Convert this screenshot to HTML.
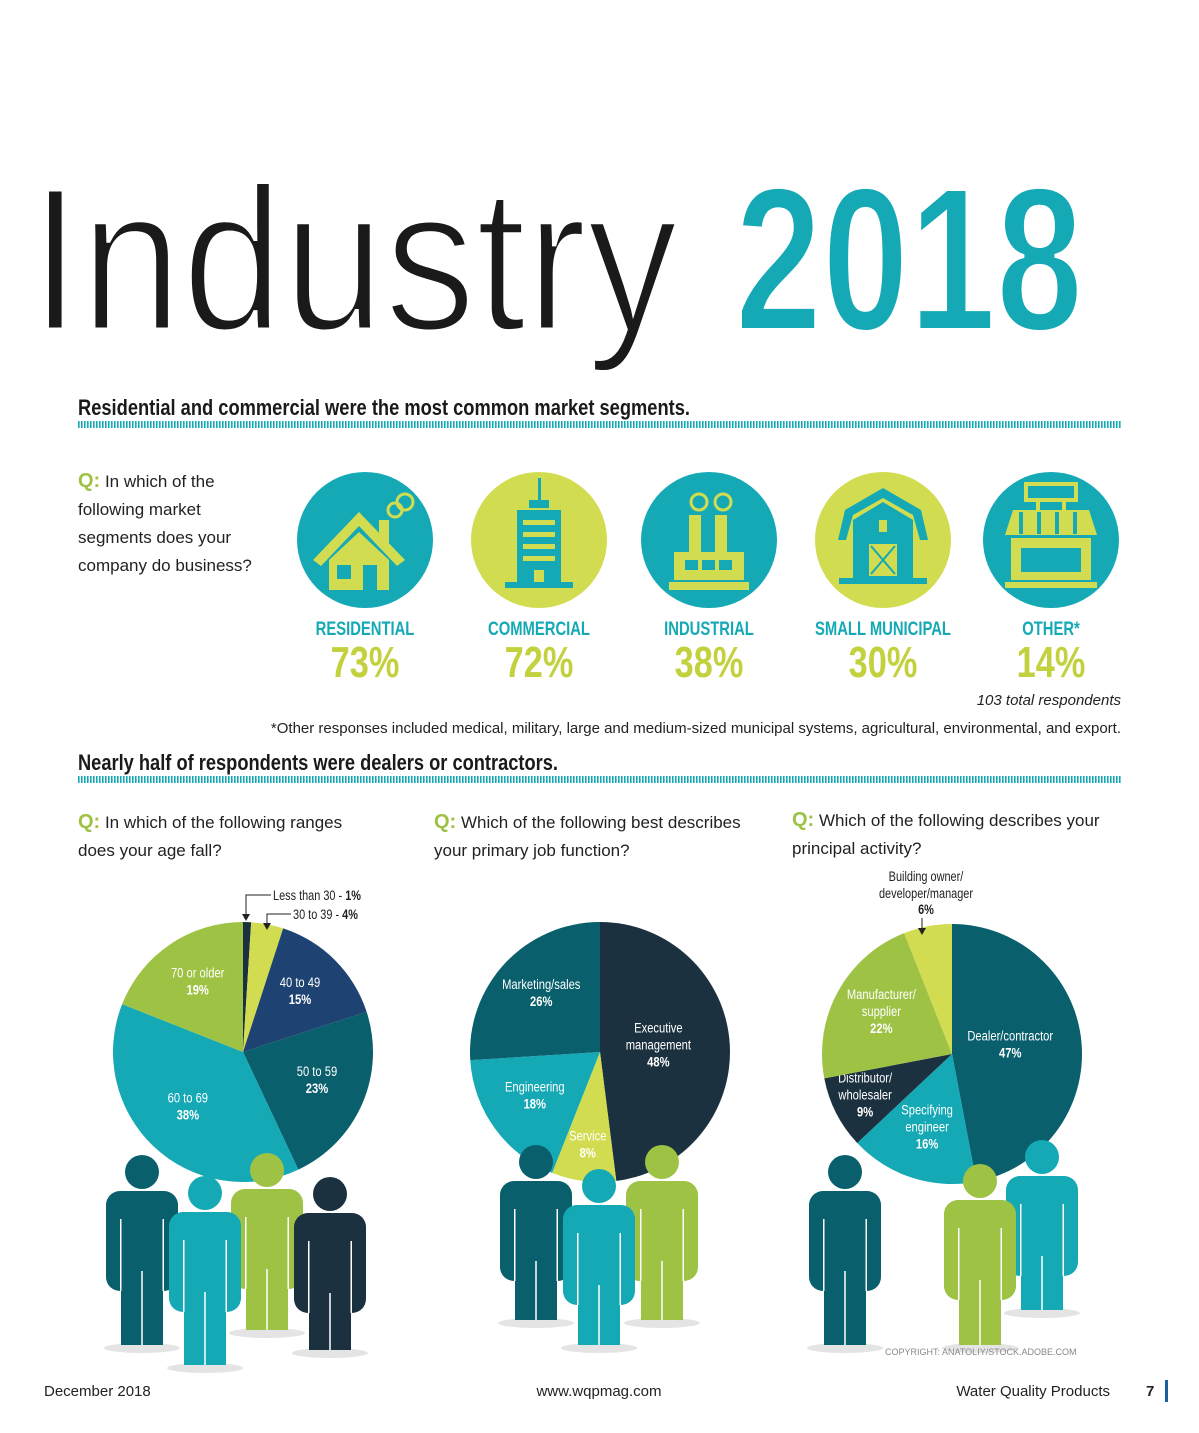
<!DOCTYPE html>
<html><head><meta charset="utf-8"><style>
body{margin:0;background:#fff}
svg{display:block}
.q{font:17px "Liberation Sans",sans-serif;fill:#222}
.qg{fill:#9dc244;font-weight:bold}
.nar{font-family:"Liberation Sans",sans-serif}
.lab{font-size:14px;fill:#fff;text-anchor:middle}
</style></head><body>
<svg id="root" width="1199" height="1433" viewBox="0 0 1199 1433">
<defs>
<pattern id="dots" width="3" height="6" patternUnits="userSpaceOnUse"><rect width="1.6" height="6" fill="#14a9b5"/></pattern>
</defs>
<rect width="1199" height="1433" fill="#fff"/>
<text x="30" y="330" font-family="Liberation Sans,sans-serif" font-size="205" fill="#1a1a1a" stroke="#fff" stroke-width="5" textLength="648" lengthAdjust="spacingAndGlyphs">Industry</text>
<text x="735" y="330" font-family="Liberation Sans,sans-serif" font-weight="bold" font-size="205" fill="#14a9b5" stroke="#fff" stroke-width="4" textLength="348" lengthAdjust="spacingAndGlyphs">2018</text>

<text x="78" y="415" font-family="Liberation Sans,sans-serif" font-weight="bold" font-size="22" fill="#1a1a1a" textLength="612" lengthAdjust="spacingAndGlyphs">Residential and commercial were the most common market segments.</text>
<rect x="78" y="421" width="1044" height="7" fill="url(#dots)"/>

<g class="q">
<text x="78" y="487"><tspan class="qg" font-size="20">Q:</tspan> In which of the</text>
<text x="78" y="515">following market</text>
<text x="78" y="543">segments does your</text>
<text x="78" y="571">company do business?</text>
</g>

<g id="segments"></g>

<text x="1121" y="705" text-anchor="end" font-family="Liberation Sans,sans-serif" font-style="italic" font-size="15" fill="#222">103 total respondents</text>
<text x="1121" y="733" text-anchor="end" font-family="Liberation Sans,sans-serif" font-size="15" fill="#222">*Other responses included medical, military, large and medium-sized municipal systems, agricultural, environmental, and export.</text>

<text x="78" y="770" font-family="Liberation Sans,sans-serif" font-weight="bold" font-size="22" fill="#1a1a1a" textLength="480" lengthAdjust="spacingAndGlyphs">Nearly half of respondents were dealers or contractors.</text>
<rect x="78" y="776" width="1044" height="7" fill="url(#dots)"/>

<g class="q">
<text x="78" y="828"><tspan class="qg" font-size="20">Q:</tspan> In which of the following ranges</text>
<text x="78" y="856">does your age fall?</text></g>
<g class="q">
<text x="434" y="828"><tspan class="qg" font-size="20">Q:</tspan> Which of the following best describes</text>
<text x="434" y="856">your primary job function?</text></g>
<g class="q">
<text x="792" y="826"><tspan class="qg" font-size="20">Q:</tspan> Which of the following describes your</text>
<text x="792" y="854">principal activity?</text></g>

<g id="pies"></g>
<g id="people"></g>

<g font-size="14" fill="#222">
<text class="nar" x="273" y="900">Less than 30 - <tspan font-weight="bold">1%</tspan></text>
<text class="nar" x="293" y="919">30 to 39 - <tspan font-weight="bold">4%</tspan></text>
<polyline points="271,895 246,895 246,917" fill="none" stroke="#222" stroke-width="1"/>
<polygon points="242,914 250,914 246,921" fill="#222"/>
<polyline points="291,914 267,914 267,926" fill="none" stroke="#222" stroke-width="1"/>
<polygon points="263,923 271,923 267,930" fill="#222"/>
</g>
<g font-size="14" fill="#222" text-anchor="middle">
<text class="nar" x="926" y="881">Building owner/</text>
<text class="nar" x="926" y="898">developer/manager</text>
<text class="nar" x="926" y="914" font-weight="bold">6%</text>
<line x1="922" y1="918" x2="922" y2="930" stroke="#222"/>
<polygon points="918,928 926,928 922,935" fill="#222"/>
</g>

<text x="885" y="1355" font-family="Liberation Sans,sans-serif" font-size="9" fill="#888">COPYRIGHT: ANATOLIY/STOCK.ADOBE.COM</text>
<g font-family="Liberation Sans,sans-serif" font-size="15" fill="#222">
<text x="44" y="1396">December 2018</text>
<text x="599" y="1396" text-anchor="middle">www.wqpmag.com</text>
<text x="1110" y="1396" text-anchor="end">Water Quality Products</text>
<text x="1146" y="1396" font-weight="bold">7</text>
</g>
<rect x="1165" y="1380" width="3" height="22" fill="#1a5fa0"/>
</svg>
<script>
const NS='http://www.w3.org/2000/svg';
const TEAL='#14a9b5',LIME='#d2dc50',GREEN='#9dc244',DTEAL='#0a5f6c',NAVY='#1c3140',BLUE='#1e4272';
// market segments data
const segNames=['RESIDENTIAL','COMMERCIAL','INDUSTRIAL','SMALL MUNICIPAL','OTHER*'];
const segValues=[73,72,38,30,14];
const segCenters=[365,539,709,883,1051];
function mk(tag,attrs,parent){const e=document.createElementNS(NS,tag);for(const k in attrs)e.setAttribute(k,attrs[k]);parent.appendChild(e);return e;}
const seg=document.getElementById('segments');
function icon(i,g,cx,cy,c){
 if(i===0){mk('polygon',{points:`${cx-52},${cy+20} ${cx-6},${cy-28} ${cx+40},${cy+20} ${cx+32},${cy+26} ${cx-6},${cy-14} ${cx-44},${cy+26}`,fill:c},g);
  mk('polygon',{points:`${cx-36},${cy+20} ${cx-6},${cy-8} ${cx+24},${cy+20} ${cx+24},${cy+50} ${cx-36},${cy+50}`,fill:c},g);
  mk('rect',{x:cx-28,y:cy+25,width:14,height:14,fill:TEAL},g);mk('rect',{x:cx-2,y:cy+25,width:14,height:25,fill:TEAL},g);
  mk('rect',{x:cx+14,y:cy-20,width:10,height:24,fill:c},g);
  mk('circle',{cx:cx+30,cy:cy-30,r:7,fill:'none',stroke:c,'stroke-width':3},g);mk('circle',{cx:cx+40,cy:cy-38,r:8,fill:'none',stroke:c,'stroke-width':3},g);}
 if(i===1){mk('rect',{x:cx-1,y:cy-62,width:3,height:22,fill:c},g);mk('rect',{x:cx-10,y:cy-40,width:20,height:8,fill:c},g);
  mk('rect',{x:cx-22,y:cy-30,width:44,height:72,fill:c},g);
  for(let k=0;k<4;k++)mk('rect',{x:cx-16,y:cy-20+k*12,width:32,height:5,fill:LIME},g);
  mk('rect',{x:cx-5,y:cy+30,width:10,height:12,fill:LIME},g);mk('rect',{x:cx-34,y:cy+42,width:68,height:6,fill:c},g);}
 if(i===2){mk('rect',{x:cx-20,y:cy-25,width:12,height:40,fill:c},g);mk('rect',{x:cx+6,y:cy-25,width:12,height:40,fill:c},g);
  mk('rect',{x:cx-35,y:cy+12,width:70,height:28,fill:c},g);
  for(let k=0;k<3;k++)mk('rect',{x:cx-24+k*17,y:cy+20,width:13,height:10,fill:TEAL},g);
  mk('rect',{x:cx-40,y:cy+42,width:80,height:8,fill:c},g);
  [[-10,-38],[14,-38]].forEach(p=>mk('circle',{cx:cx+p[0],cy:cy+p[1],r:8,fill:'none',stroke:c,'stroke-width':3},g));}
 if(i===3){mk('polygon',{points:`${cx-45},${cy} ${cx-38},${cy-30} ${cx},${cy-52} ${cx+38},${cy-30} ${cx+45},${cy} ${cx+37},${cy} ${cx+30},${cy-25} ${cx},${cy-42} ${cx-30},${cy-25} ${cx-37},${cy}`,fill:c},g);
  mk('polygon',{points:`${cx-30},${cy-20} ${cx},${cy-38} ${cx+30},${cy-20} ${cx+30},${cy+38} ${cx-30},${cy+38}`,fill:c},g);
  mk('rect',{x:cx-4,y:cy-20,width:8,height:12,fill:LIME},g);mk('rect',{x:cx-14,y:cy+4,width:28,height:32,fill:LIME},g);
  mk('path',{d:`M${cx-12},${cy+6}L${cx+12},${cy+34}M${cx+12},${cy+6}L${cx-12},${cy+34}`,stroke:c,'stroke-width':2},g);
  mk('rect',{x:cx-44,y:cy+38,width:88,height:6,fill:c},g);}
 if(i===4){mk('rect',{x:cx-25,y:cy-56,width:50,height:16,fill:'none',stroke:c,'stroke-width':4},g);
  mk('rect',{x:cx-15,y:cy-40,width:4,height:10,fill:c},g);mk('rect',{x:cx+11,y:cy-40,width:4,height:10,fill:c},g);
  mk('polygon',{points:`${cx-38},${cy-30} ${cx+38},${cy-30} ${cx+46},${cy-5} ${cx-46},${cy-5}`,fill:c},g);
  for(let k=0;k<4;k++)mk('rect',{x:cx-32+k*18,y:cy-28,width:4,height:22,fill:TEAL},g);
  mk('rect',{x:cx-40,y:cy-2,width:80,height:42,fill:c},g);mk('rect',{x:cx-30,y:cy+8,width:60,height:24,fill:TEAL},g);
  mk('rect',{x:cx-46,y:cy+42,width:92,height:6,fill:c},g);}
}
segNames.forEach((n,i)=>{
 const g=mk('g',{},seg);
 
 
 const bg=i%2?LIME:TEAL, fg=i%2?TEAL:LIME;
 mk('circle',{cx:segCenters[i],cy:540,r:68,fill:bg},g);
 icon(i,g,segCenters[i],540,fg);
 const t=mk('text',{x:segCenters[i],y:635,'text-anchor':'middle','font-size':19,'font-weight':'bold',fill:TEAL,class:'nar'},g);t.textContent=n;
 const p=mk('text',{x:segCenters[i],y:677,'text-anchor':'middle','font-size':44,'font-weight':'bold',fill:'#c4d13e',class:'nar'},g);p.textContent=segValues[i]+'%';
});
// pie data
const ageCats=['Less than 30','30 to 39','40 to 49','50 to 59','60 to 69','70 or older'];
const ageVals=[1,4,15,23,38,19];
const ageCols=[NAVY,LIME,BLUE,DTEAL,TEAL,GREEN];
const jobCats=['Executive management','Service','Engineering','Marketing/sales'];
const jobVals=[48,8,18,26];
const jobCols=[NAVY,LIME,TEAL,DTEAL];
const actCats=['Dealer/contractor','Specifying engineer','Distributor/ wholesaler','Manufacturer/ supplier','Building owner/developer/manager'];
const actVals=[47,16,9,22,6];
const actCols=[DTEAL,TEAL,NAVY,GREEN,LIME];
const pies=document.getElementById('pies');
function pie(name,cx,cy,r,cats,vals,cols,labelMin){
 const g=mk('g',{},pies);
 const tot=vals.reduce((a,b)=>a+b,0);let acc=0;
 vals.forEach((v,i)=>{
  const a0=acc/tot*2*Math.PI;acc+=v;const a1=acc/tot*2*Math.PI;
  const P=a=>[cx+r*Math.sin(a),cy-r*Math.cos(a)];
  const p0=P(a0),p1=P(a1);
  const s=mk('path',{d:`M${cx},${cy}L${p0[0]},${p0[1]}A${r},${r} 0 ${a1-a0>Math.PI?1:0} 1 ${p1[0]},${p1[1]}Z`,fill:cols[i]},g);
  
  
  if(v>=labelMin){
   const am=(a0+a1)/2,lr=v>40?0.45*r:(v<12?0.75*r:0.62*r);
   const lx=cx+lr*Math.sin(am),ly=cy-lr*Math.cos(am);
   const parts=cats[i].split(/ (?=management)|\/ | (?=engineer)/).map((t,k,arr)=>k<arr.length-1&&cats[i].includes('/ ')?t+'/':t);
   const fill=cols[i]===LIME?'#222':'#fff';
   const t=mk('text',{x:lx,y:ly-(parts.length)*8,class:'nar lab',fill:fill},g);
   parts.forEach((pt,k)=>{const ts=mk('tspan',{x:lx,dy:k?17:0},t);ts.textContent=pt;});
   const ts=mk('tspan',{x:lx,dy:17,'font-weight':'bold'},t);ts.textContent=v+'%';
  }
 });
}
pie('age-pie',243,1052,130,ageCats,ageVals,ageCols,5);
pie('job-pie',600,1052,130,jobCats,jobVals,jobCols,1);
pie('activity-pie',952,1054,130,actCats,actVals,actCols,7);
// people
const ppl=document.getElementById('people');
function person(hx,hy,bottom,c){
 const g=mk('g',{},ppl);
 mk('ellipse',{cx:hx,cy:bottom+3,rx:38,ry:5,fill:'#e4e4e4'},g);
 mk('circle',{cx:hx,cy:hy,r:17,fill:c},g);
 const top=hy+19,x=hx-36,torsoB=top+100;
 mk('rect',{x:x,y:top,width:72,height:100,rx:14,fill:c},g);
 mk('rect',{x:x+15,y:torsoB-12,width:42,height:bottom-torsoB+12,fill:c},g);
 mk('rect',{x:x+14,y:top+28,width:1.5,height:72,fill:'#fff'},g);
 mk('rect',{x:x+56.5,y:top+28,width:1.5,height:72,fill:'#fff'},g);
 mk('rect',{x:hx-0.75,y:torsoB-20,width:1.5,height:bottom-torsoB+20,fill:'#fff'},g);
}
person(142,1172,1345,DTEAL);person(267,1170,1330,GREEN);person(205,1193,1365,TEAL);person(330,1194,1350,NAVY);
person(536,1162,1320,DTEAL);person(662,1162,1320,GREEN);person(599,1186,1345,TEAL);
person(845,1172,1345,DTEAL);person(1042,1157,1310,TEAL);person(980,1181,1345,GREEN);
// condense narrow text horizontally around its x anchor
document.querySelectorAll('text.nar').forEach(t=>{
 const x=parseFloat(t.getAttribute('x'));const s=t.classList.contains('lab')?0.8:0.78;
 t.setAttribute('transform',`translate(${x},0) scale(${s},1) translate(${-x},0)`);
});
</script>
</body></html>
